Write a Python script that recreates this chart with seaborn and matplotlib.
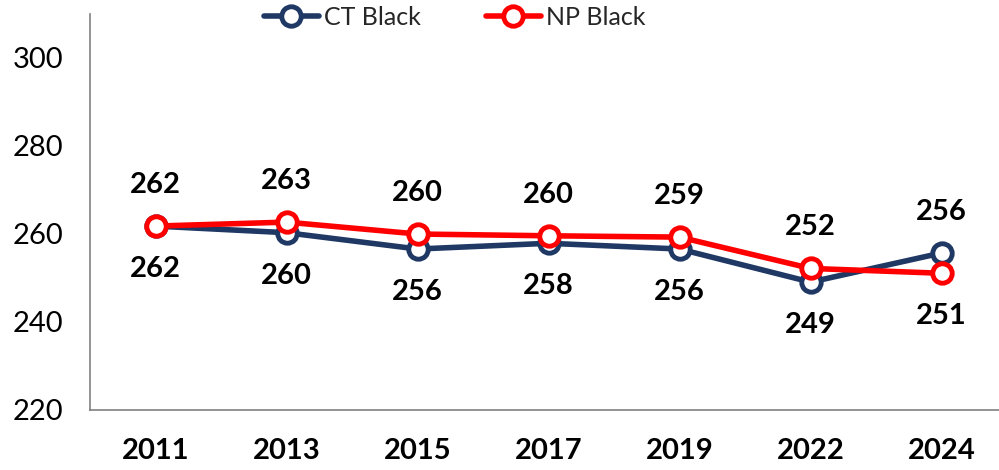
import numpy as np
import pandas as pd
import matplotlib
matplotlib.use("Agg")
import matplotlib.pyplot as plt
from matplotlib.lines import Line2D
import seaborn as sns

# data
years = ["2011", "2013", "2015", "2017", "2019", "2022", "2024"]
ct_black = [261.7, 260.2, 256.5, 257.8, 256.5, 249.0, 255.6]
np_black = [261.7, 262.6, 259.9, 259.5, 259.2, 252.1, 251.0]
ct_labels = [262, 260, 256, 258, 256, 249, 256]
np_labels = [262, 263, 260, 260, 259, 252, 251]

sns.set_style("white")
plt.rcParams["font.family"] = ["Lato", "DejaVu Sans"]

pos = list(range(len(years)))
colors = {"CT Black": "#1F3864", "NP Black": "#FF0000"}
series = {"CT Black": ct_black, "NP Black": np_black}

fig = plt.figure(figsize=(9.99, 4.70), dpi=100)
ax = fig.add_axes([0.0901, 0.1277, 0.918, 0.8426])

for name, vals in series.items():
    sns.lineplot(x=pos, y=vals, color=colors[name], linewidth=4, marker="o",
                 markersize=14, markerfacecolor="white",
                 markeredgecolor=colors[name], markeredgewidth=3.5, ax=ax)

# data labels
for i in range(len(years)):
    ct_off = 41 if i == len(years) - 1 else -43
    np_off = -43 if i == len(years) - 1 else 41
    ax.annotate(str(ct_labels[i]), (i, ct_black[i]), xytext=(0, ct_off),
                textcoords="offset pixels", ha="center", va="center",
                fontsize=21, fontweight="bold", color="black")
    ax.annotate(str(np_labels[i]), (i, np_black[i]), xytext=(0, np_off),
                textcoords="offset pixels", ha="center", va="center",
                fontsize=21, fontweight="bold", color="black")

ax.set_xlim(-0.5, len(years) - 0.5)
ax.set_ylim(220, 309.8)
ax.set_yticks([220, 240, 260, 280, 300])
ax.set_xticks(pos)
ax.set_xticklabels(years, fontsize=21, fontweight="bold")
ax.set_xticks(np.arange(-0.5, len(years), 1), minor=True)
ax.tick_params(axis="x", which="major", length=0, pad=20, labelcolor="black")
ax.tick_params(axis="x", which="minor", length=9, width=1, color="black")
ax.tick_params(axis="y", length=9, width=1, color="#777777", labelsize=21,
               pad=10, labelcolor="black")
for side in ["top", "right"]:
    ax.spines[side].set_visible(False)
for side in ["left", "bottom"]:
    ax.spines[side].set_color("#808080")
    ax.spines[side].set_linewidth(1.2)

handles = [Line2D([], [], color=colors[s], linewidth=4, marker="o", markersize=14,
                  markerfacecolor="white", markeredgecolor=colors[s],
                  markeredgewidth=3.5) for s in colors]
fig.legend(handles, list(colors), loc="upper center", bbox_to_anchor=(0.455, 1.035),
           ncol=2, frameon=False, fontsize=18, handlelength=2.2, columnspacing=2.6,
           handletextpad=0.2)

fig.savefig("out.png", dpi=100)
